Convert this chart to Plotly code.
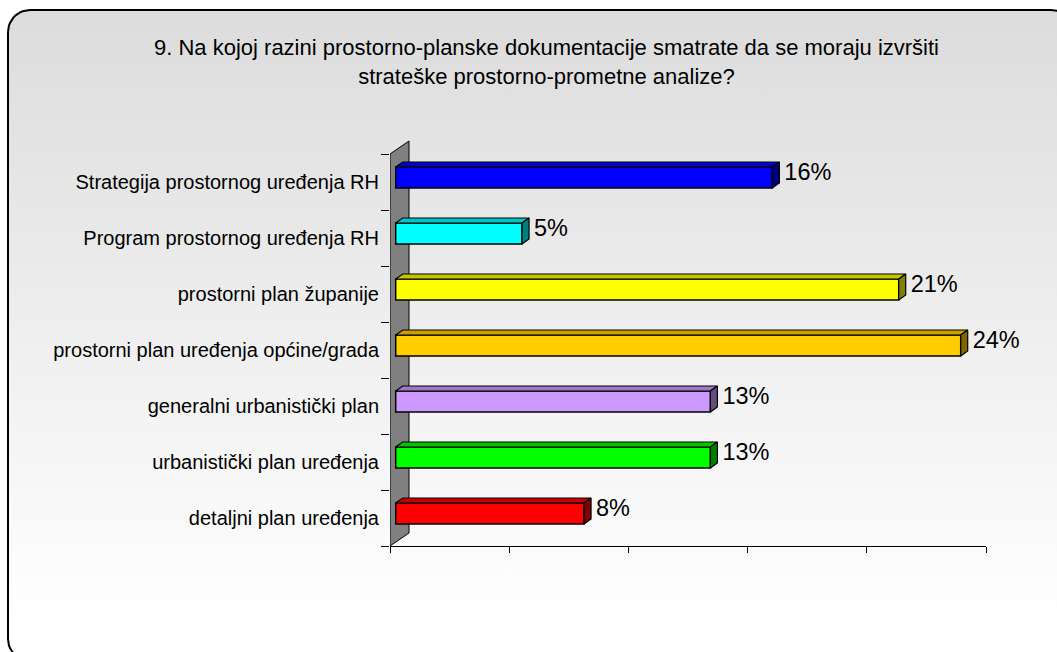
import numpy as np
import plotly.graph_objects as go

# --- survey data -----------------------------------------------------------
title_text = ("9. Na kojoj razini prostorno-planske dokumentacije smatrate da se moraju izvršiti"
              "<br>strateške prostorno-prometne analize?")
categories = [
    "Strategija prostornog uređenja RH",
    "Program prostornog uređenja RH",
    "prostorni plan županije",
    "prostorni plan uređenja općine/grada",
    "generalni urbanistički plan",
    "urbanistički plan uređenja",
    "detaljni plan uređenja",
]
shares = [15.8, 5.3, 21.1, 23.7, 13.2, 13.2, 7.9]          # percent of answers
bar_colors = ["#0000FF", "#00FFFF", "#FFFF00", "#FFCC00", "#CC99FF", "#00FF00", "#FF0000"]
x_ticks = [0, 5, 10, 15, 20, 25]

# --- page geometry (pixels) -------------------------------------------------
W, H = 1057, 652
PL, PR, PT, PB = 390, 986, 154, 546          # plot area edges
X_MAX = x_ticks[-1]
N = len(categories)
px_x = (PR - PL) / X_MAX                     # pixels per percent
px_c = (PB - PT) / N                         # pixels per category
Y_TOP = -0.8                                 # a little headroom for the wall's 3D top

FONT = "Liberation Sans, Arial, sans-serif"


def shade(hex_color, f):
    h = hex_color.lstrip("#")
    r, g, b = (int(h[i:i + 2], 16) for i in (0, 2, 4))
    return "#%02x%02x%02x" % (int(r * f), int(g * f), int(b * f))


fig = go.Figure()

# --- rounded frame with a vertical grey-to-white gradient -------------------
bx0, by0, bx1, by1, R = 8, 10, 1073, 661, 22
t = np.linspace(0, np.pi / 2, 12)
fx, fy = [], []
for cx, cy, a0 in [(bx0 + R, by0 + R, np.pi), (bx1 - R, by0 + R, 1.5 * np.pi),
                   (bx1 - R, by1 - R, 0.0), (bx0 + R, by1 - R, 0.5 * np.pi)]:
    fx += list(cx + R * np.cos(a0 + t))
    fy += list(cy + R * np.sin(a0 + t))
fx.append(fx[0]); fy.append(fy[0])
fig.add_trace(go.Scatter(
    x=fx, y=fy, mode="lines", fill="toself",
    line=dict(color="black", width=2),
    fillgradient=dict(type="vertical", colorscale=[[0, "#dcdcdc"], [1, "#ffffff"]],
                      start=by0, stop=620),
    hoverinfo="skip", xaxis="x", yaxis="y"))

# --- grey back wall ----------------------------------------------------------
wdx, wdy = 19 / px_x, 13 / px_c
fig.add_trace(go.Scatter(
    x=[0, 0, wdx, wdx, 0], y=[N - 0.5, -0.5, -0.5 - wdy, N - 0.5 - wdy, N - 0.5],
    mode="lines", fill="toself", fillcolor="#808080",
    line=dict(color="black", width=1), hoverinfo="skip", xaxis="x2", yaxis="y2"))

# --- 3D bars -----------------------------------------------------------------
base = 5.7 / px_x                 # front faces sit slightly in front of the wall
bar_w = 21 / px_c
bar_off = -15 / px_c
ddx, ddy = 7 / px_x, 5 / px_c     # depth of each bar
pos = list(range(N))

fig.add_trace(go.Bar(
    y=pos, x=shares, base=base, orientation="h", width=bar_w, offset=bar_off,
    marker=dict(color=bar_colors, line=dict(color="black", width=1.5)),
    hoverinfo="skip", xaxis="x3", yaxis="y3"))

for i, (v, c) in enumerate(zip(shares, bar_colors)):
    top = i + bar_off
    bot = top + bar_w
    x_end = base + v
    fig.add_trace(go.Scatter(
        x=[base, base + ddx, x_end + ddx, x_end, base],
        y=[top, top - ddy, top - ddy, top, top],
        mode="lines", fill="toself", fillcolor=shade(c, 0.78),
        line=dict(color="black", width=1.2), hoverinfo="skip", xaxis="x3", yaxis="y3"))
    fig.add_trace(go.Scatter(
        x=[x_end, x_end + ddx, x_end + ddx, x_end, x_end],
        y=[top, top - ddy, bot - ddy, bot, top],
        mode="lines", fill="toself", fillcolor=shade(c, 0.5),
        line=dict(color="black", width=1.2), hoverinfo="skip", xaxis="x3", yaxis="y3"))

# --- value labels ----------------------------------------------------------------
lab_gap = 5 / px_x
fig.add_trace(go.Scatter(
    x=[base + v + ddx + lab_gap for v in shares], y=[i - 8 / px_c for i in pos],
    mode="text", text=[f"{v:.0f}%" for v in shares], textposition="middle right",
    textfont=dict(family=FONT, size=23.5, color="black"), cliponaxis=False,
    hoverinfo="skip", xaxis="x3", yaxis="y3"))

dom_x = [PL / W, PR / W]
dom_y = [1 - PB / H, 1 - (PT + Y_TOP * px_c + 0.5 * px_c) / H]

fig.add_annotation(
    text=title_text, xref="paper", yref="paper", x=546.5 / W, y=1 - 33 / H,
    xanchor="center", yanchor="top", showarrow=False, align="center",
    font=dict(family=FONT, size=22, color="black"))

fig.update_layout(
    width=W, height=H, margin=dict(l=0, r=0, t=0, b=0),
    paper_bgcolor="white", plot_bgcolor="rgba(0,0,0,0)", showlegend=False,
    font=dict(family=FONT, color="black"),
    xaxis=dict(domain=[0, 1], range=[0, W], visible=False, fixedrange=True),
    yaxis=dict(domain=[0, 1], range=[H, 0], visible=False, fixedrange=True),
    xaxis2=dict(domain=dom_x, range=[0, X_MAX], anchor="y2", tickvals=x_ticks,
                ticks="outside", ticklen=6, tickcolor="black", showticklabels=False,
                showline=True, linecolor="black", linewidth=1,
                showgrid=False, zeroline=False, fixedrange=True),
    yaxis2=dict(domain=dom_y, range=[N - 0.5, Y_TOP], anchor="x2",
                tickvals=pos, ticktext=categories, ticks="", ticklabelstandoff=10,
                tickfont=dict(family=FONT, size=20, color="black"),
                minor=dict(tickmode="array", tickvals=[k - 0.5 for k in range(N + 1)],
                           ticks="outside", ticklen=8, tickcolor="black"),
                showline=False, showgrid=False, zeroline=False, fixedrange=True),
    xaxis3=dict(overlaying="x2", range=[0, X_MAX], visible=False, fixedrange=True),
    yaxis3=dict(overlaying="y2", range=[N - 0.5, Y_TOP], visible=False, fixedrange=True),
)

fig.write_html("out.html")
